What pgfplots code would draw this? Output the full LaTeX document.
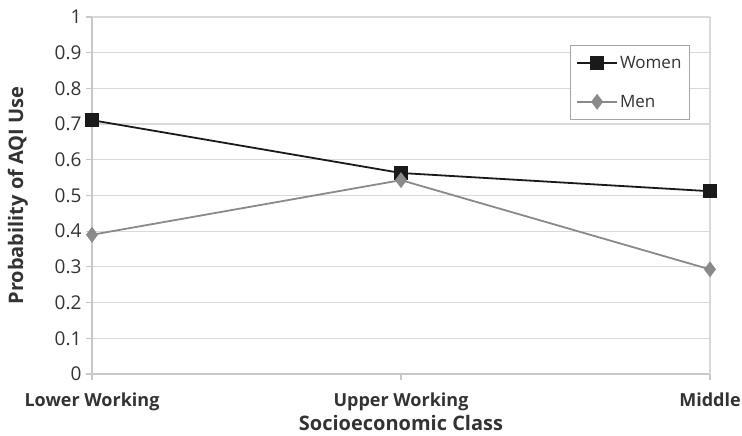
\documentclass[border=0pt]{standalone}
\usepackage{pgfplots}
\pgfplotsset{compat=1.18}
\usepackage{fontspec}
\setmainfont{Open Sans}
\definecolor{gridc}{HTML}{D9D9D9}
\definecolor{axc}{HTML}{C8C8C8}
\definecolor{txt}{HTML}{333333}
\definecolor{wom}{HTML}{1A1A1A}
\definecolor{men}{HTML}{8A8A8A}
\begin{document}
\begin{tikzpicture}
\begin{axis}[
  at={(92pt,62pt)}, anchor=origin,
  scale only axis, width=618pt, height=357pt,
  xmin=0, xmax=2, ymin=0, ymax=1,
  axis x line*=bottom, axis y line*=left,
  axis line style={axc, line width=1.2pt},
  xtick={0,1,2}, xticklabels={Lower Working,Upper Working,Middle},
  ytick={0,0.1,...,1.0},
  yticklabel style={/pgf/number format/fixed, /pgf/number format/precision=1},
  /pgf/number format/assume math mode=true,
  ymajorgrids, grid style={gridc, line width=1.2pt},
  extra x ticks={2}, extra x tick labels={}, extra x tick style={grid=major, major grid style={gridc,line width=1.2pt}},
  tick style={axc, line width=1.2pt},
  major tick length=6pt,
  tick align=outside,
  ticklabel style={font=\fontsize{19}{22}\selectfont, text=txt},
  xticklabel style={font=\fontsize{18}{21}\selectfont\bfseries, text=txt, anchor=base, yshift=-27pt},
  yticklabel style={xshift=-1pt},
  xlabel={Socioeconomic Class}, ylabel={Probability of AQI Use},
  label style={font=\fontsize{20}{23}\selectfont\bfseries, text=txt},
  xlabel style={at={(axis description cs:0.5,0)}, anchor=base, yshift=-57pt},
  ylabel style={at={(axis description cs:0,0.5)}, anchor=center, yshift=74pt},
  clip=false,
  legend style={at={(0.773,0.922)}, anchor=north west, draw=gray!70, line width=1pt,
    font=\fontsize{17}{20}\selectfont, text=txt, row sep=21pt, inner xsep=6pt, inner ysep=9pt,
    /tikz/every even column/.append style={column sep=2pt}},
  legend cell align=left,
  legend image code/.code={\draw[mark repeat=2,mark phase=2] plot coordinates {(0pt,0pt) (20pt,0pt) (40pt,0pt)};},
]
\addplot[wom, line width=1.8pt, mark=square*, mark size=6pt, mark options={fill=wom, draw=wom}]
  coordinates {(0,0.711) (1,0.563) (2,0.512)};
\addlegendentry{Women}
\addplot[men, line width=1.8pt, mark=diamond*, mark size=6.5pt, mark options={fill=men, draw=men}]
  coordinates {(0,0.390) (1,0.543) (2,0.293)};
\addlegendentry{Men}
\end{axis}
\pgfresetboundingbox
\useasboundingbox (0,0) rectangle (742pt,436pt);
\end{tikzpicture}
\end{document}
